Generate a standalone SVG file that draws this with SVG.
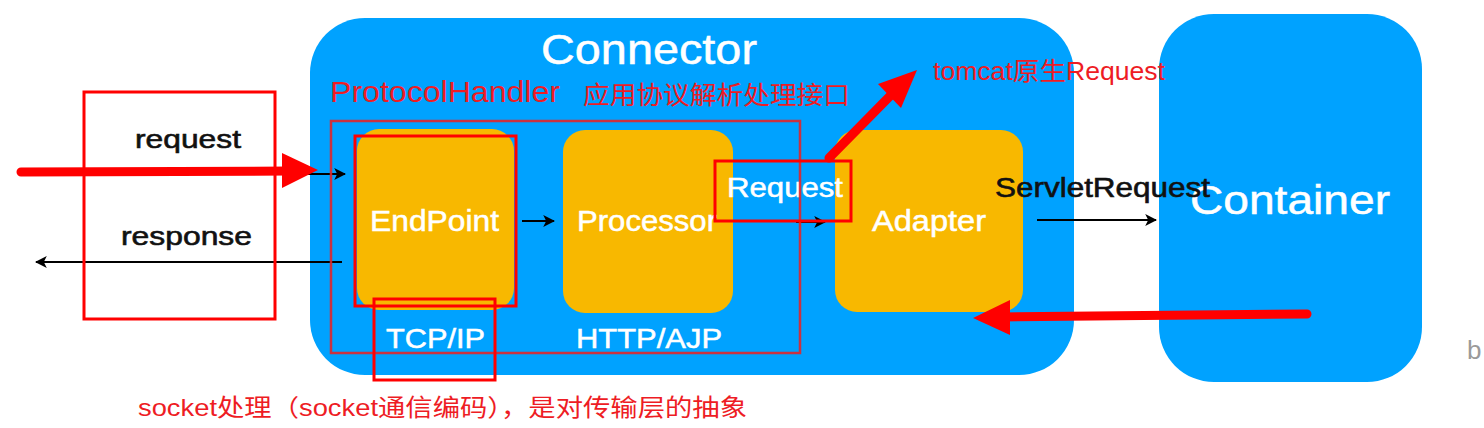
<svg xmlns="http://www.w3.org/2000/svg" width="1484" height="428" viewBox="0 0 1484 428">
<defs>
<style>
.blue{fill:#00a2ff}
.yel{fill:#f8b800}
.wt{fill:#ffffff;stroke:#ffffff;stroke-width:0.5;font-family:"Liberation Sans",Arial,sans-serif}
.bk{fill:#111111;stroke:#111111;stroke-width:0.6;font-family:"Liberation Sans",Arial,sans-serif}
.rt{fill:#ee1c24;font-family:"Liberation Sans","Noto Sans CJK SC",sans-serif}
.rbox{fill:none;stroke:#ff0000;stroke-width:3}
.bl{stroke:#000;stroke-width:2;fill:none}
.rl{stroke:#ff0000;stroke-width:9;stroke-linecap:round;fill:none}
</style>
<marker id="ah" viewBox="0 0 10 10" refX="9" refY="5" markerWidth="12" markerHeight="12" markerUnits="userSpaceOnUse" orient="auto">
<path d="M0,0 L10,5 L0,10 L2.5,5 z" fill="#000"/>
</marker>
</defs>
<rect width="1484" height="428" fill="#ffffff"/>
<g id="connector">
<rect class="blue" x="310" y="18" width="764" height="357" rx="55"/>
<text class="wt" x="541" y="64" font-size="42" textLength="216" lengthAdjust="spacingAndGlyphs">Connector</text>
</g>
<g id="container">
<rect class="blue" x="1159" y="14" width="263" height="368" rx="55"/>
<text class="wt" x="1190" y="214" font-size="40" textLength="200" lengthAdjust="spacingAndGlyphs">Container</text>
</g>
<g id="endpoint">
<rect class="yel" x="357" y="129" width="157" height="181" rx="22"/>
<text class="wt" x="370" y="231" font-size="29" textLength="129" lengthAdjust="spacingAndGlyphs">EndPoint</text>
</g>
<g id="processor">
<rect class="yel" x="563" y="130" width="170" height="183" rx="22"/>
<text class="wt" x="577" y="231" font-size="29" textLength="140" lengthAdjust="spacingAndGlyphs">Processor</text>
</g>
<g id="adapter">
<rect class="yel" x="835" y="130" width="188" height="182" rx="22"/>
<text class="wt" x="872" y="231" font-size="29" textLength="114" lengthAdjust="spacingAndGlyphs">Adapter</text>
</g>
<g id="labels">
<text class="wt" x="386" y="348" font-size="28" textLength="99" lengthAdjust="spacingAndGlyphs">TCP/IP</text>
<text class="wt" x="576" y="348" font-size="28" textLength="146" lengthAdjust="spacingAndGlyphs">HTTP/AJP</text>
<text class="wt" x="727" y="197" font-size="28" textLength="116" lengthAdjust="spacingAndGlyphs">Request</text>
<text class="bk" x="995" y="197" font-size="27" textLength="215" lengthAdjust="spacingAndGlyphs">ServletRequest</text>
<text class="bk" x="135" y="148" font-size="26" textLength="106" lengthAdjust="spacingAndGlyphs">request</text>
<text class="bk" x="121" y="245" font-size="26" textLength="131" lengthAdjust="spacingAndGlyphs">response</text>
<text x="1467" y="359" font-size="26" fill="#9a9a9a" font-family="'Liberation Sans',Arial,sans-serif">b</text>
</g>
<g id="connectors">
<line class="bl" x1="306" y1="174" x2="345" y2="174" marker-end="url(#ah)"/>
<line class="bl" x1="342" y1="262" x2="36" y2="262" marker-end="url(#ah)"/>
<line class="bl" x1="522" y1="221" x2="554" y2="221" marker-end="url(#ah)"/>
<line class="bl" x1="796" y1="222" x2="825" y2="222" marker-end="url(#ah)"/>
<line class="bl" x1="1037" y1="220" x2="1156" y2="220" marker-end="url(#ah)"/>
</g>
<g id="annotations">
<rect x="331" y="121" width="469" height="232" fill="none" stroke="#e0262b" stroke-width="2.5" opacity="0.9"/>
<text class="rt" x="330" y="102" font-size="30" fill="#d8262b" textLength="230" lengthAdjust="spacingAndGlyphs">ProtocolHandler</text>
<text class="rt" x="583" y="104" font-size="25" textLength="267" lengthAdjust="spacingAndGlyphs">应用协议解析处理接口</text>
<text class="rt" x="933" y="80" font-size="25" textLength="232" lengthAdjust="spacingAndGlyphs">tomcat原生Request</text>
<text class="rt" x="138" y="416" font-size="24" textLength="609" lengthAdjust="spacingAndGlyphs">socket处理（socket通信编码），是对传输层的抽象</text>
<rect class="rbox" x="84" y="92" width="191" height="227"/>
<rect class="rbox" x="355" y="136" width="161" height="170"/>
<rect class="rbox" x="374" y="299" width="121" height="81"/>
<rect class="rbox" x="715" y="161" width="136" height="60"/>
<line class="rl" x1="21" y1="172" x2="290" y2="171"/>
<polygon points="282,153 318,170 282,188" fill="#ff0000"/>
<line class="rl" x1="1307" y1="314" x2="1000" y2="317"/>
<polygon points="1010,300 973,318 1010,335" fill="#ff0000"/>
<line class="rl" x1="829" y1="158" x2="893" y2="93"/>
<polygon points="878,84 917,70 901,108" fill="#ff0000"/>
</g>
</svg>
